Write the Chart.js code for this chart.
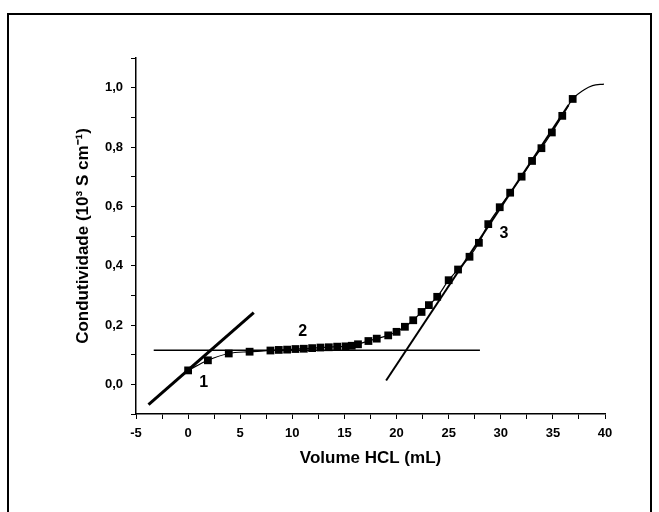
<!DOCTYPE html>
<html>
<head>
<meta charset="utf-8">
<script src="https://cdn.jsdelivr.net/npm/chart.js@4.4.1/dist/chart.umd.min.js"></script>
<style>
  html, body { margin: 0; padding: 0; background: #fff; }
  #wrap { position: relative; width: 659px; height: 512px; overflow: hidden; }
  #frame { position: absolute; left: 7px; top: 13px; width: 645px; height: 520px; border: 2px solid #000; box-sizing: border-box; }
  canvas { position: absolute; left: 0; top: 0; }
</style>
</head>
<body>
<div id="wrap">
  <div id="frame"></div>
  <canvas id="chart" width="659" height="512"></canvas>
</div>
<script>
// measured points (volume HCl in mL, conductivity in 10^3 S/cm)
const volume = [0, 1.9, 3.9, 5.9, 7.9, 8.7, 9.5, 10.3, 11.1, 11.9, 12.7, 13.5, 14.3, 15.1, 15.7, 16.3,
  17.3, 18.1, 19.2, 20.0, 20.8, 21.6, 22.4, 23.1, 23.9, 25.0, 25.9, 27.0, 27.9, 28.8, 29.9, 30.9,
  32.0, 33.0, 33.9, 34.9, 35.9, 36.9];
const conductivity = [0.047, 0.081, 0.104, 0.110, 0.114, 0.116, 0.117, 0.119, 0.120, 0.122, 0.124,
  0.125, 0.127, 0.128, 0.130, 0.135, 0.146, 0.154, 0.165, 0.177, 0.194, 0.216, 0.244, 0.267, 0.295,
  0.351, 0.387, 0.430, 0.477, 0.540, 0.597, 0.646, 0.700, 0.753, 0.796, 0.849, 0.905, 0.962];

// fitted curve continues past the last point
const curveTailX = [38.0, 38.8, 39.9];
const curveTailY = [0.993, 1.007, 1.012];

// tangent lines 1, 2, 3 (end points)
const tangent1X = [-3.8, 6.3];
const tangent1Y = [-0.068, 0.242];
const tangent2X = [-3.3, 28.0];
const tangent2Y = [0.115, 0.115];
const tangent3X = [19.0, 36.5];
const tangent3Y = [0.013, 0.941];

// region labels
const regionText = ['1', '2', '3'];
const regionX = [1.5, 11.0, 30.3];
const regionY = [0.005, 0.178, 0.509];

const xTicks = [-5, 0, 5, 10, 15, 20, 25, 30, 35, 40];
const yTicks = [0.0, 0.2, 0.4, 0.6, 0.8, 1.0];

function pairs(xs, ys) {
    return xs.map((x, i) => ({ x: x, y: ys[i] }));
}

Chart.defaults.font.family = '"Liberation Sans", Arial, sans-serif';
Chart.defaults.font.weight = 'bold';
Chart.defaults.color = '#000';

const regionLabels = {
    id: 'regionLabels',
    afterDatasetsDraw(chart) {
        const ctx = chart.ctx;
        const xs = chart.scales.x, ys = chart.scales.y;
        ctx.save();
        ctx.font = 'bold 16px "Liberation Sans", Arial, sans-serif';
        ctx.fillStyle = '#000';
        ctx.textAlign = 'center';
        ctx.textBaseline = 'middle';
        regionText.forEach((t, i) => {
            ctx.fillText(t, xs.getPixelForValue(regionX[i]), ys.getPixelForValue(regionY[i]));
        });
        ctx.restore();
    }
};

new Chart(document.getElementById('chart').getContext('2d'), {
    type: 'scatter',
    data: {
        datasets: [
            {
                label: 'Dados',
                data: pairs(volume, conductivity),
                pointStyle: 'rect',
                pointRadius: 5.5,
                backgroundColor: '#000',
                borderColor: '#000',
                borderWidth: 0,
                showLine: false,
                order: 0
            },
            {
                label: 'Ajuste',
                data: pairs(volume.concat(curveTailX), conductivity.concat(curveTailY)),
                showLine: true,
                pointRadius: 0,
                borderColor: '#000',
                borderWidth: 1.2,
                cubicInterpolationMode: 'monotone',
                order: 1
            },
            {
                label: 'Tangente 1',
                data: pairs(tangent1X, tangent1Y),
                showLine: true,
                pointRadius: 0,
                borderColor: '#000',
                borderWidth: 3,
                order: 2
            },
            {
                label: 'Tangente 2',
                data: pairs(tangent2X, tangent2Y),
                showLine: true,
                pointRadius: 0,
                borderColor: '#000',
                borderWidth: 1.5,
                order: 2
            },
            {
                label: 'Tangente 3',
                data: pairs(tangent3X, tangent3Y),
                showLine: true,
                pointRadius: 0,
                borderColor: '#000',
                borderWidth: 2,
                order: 2
            }
        ]
    },
    options: {
        responsive: false,
        animation: false,
        layout: { padding: { left: 73, right: 54, top: 58, bottom: 43 } },
        plugins: {
            legend: { display: false },
            tooltip: { enabled: false }
        },
        scales: {
            x: {
                type: 'linear',
                min: -5,
                max: 40,
                afterFit: (scale) => { scale.height = 55; },
                ticks: {
                    stepSize: 2.5,
                    padding: 7,
                    font: { size: 13, weight: 'bold' },
                    callback: (v) => xTicks.includes(v) ? String(v) : ''
                },
                grid: { drawOnChartArea: false, tickLength: 5, color: '#000', tickColor: '#000' },
                border: { display: true, color: '#000', width: 1.5 },
                title: {
                    display: true,
                    text: 'Volume HCL (mL)',
                    font: { size: 17, weight: 'bold' },
                    padding: 0
                }
            },
            y: {
                type: 'linear',
                min: -0.1,
                max: 1.1,
                afterFit: (scale) => { scale.width = 63; },
                ticks: {
                    stepSize: 0.1,
                    padding: 8,
                    font: { size: 13, weight: 'bold' },
                    callback: (v) => {
                        const r = Math.round(v * 10) / 10;
                        return yTicks.some(t => Math.abs(t - r) < 1e-6) ? r.toFixed(1).replace('.', ',') : '';
                    }
                },
                grid: { drawOnChartArea: false, tickLength: 5, color: '#000', tickColor: '#000' },
                border: { display: true, color: '#000', width: 1.5 },
                title: {
                    display: true,
                    text: 'Condutividade (10³ S cm⁻¹)',
                    font: { size: 17, weight: 'bold' },
                    padding: 0
                }
            }
        }
    },
    plugins: [regionLabels]
});
</script>
</body>
</html>
